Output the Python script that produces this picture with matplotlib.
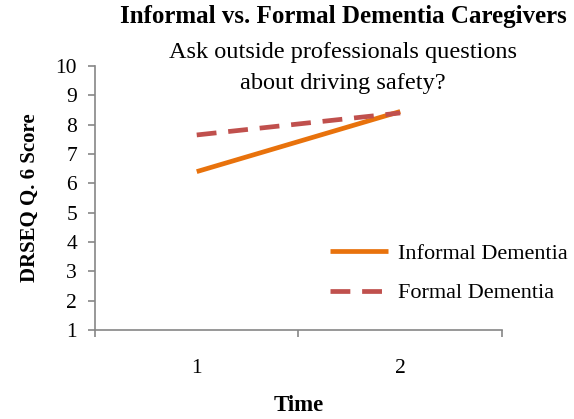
import matplotlib.pyplot as plt

plt.rcParams['font.family'] = ['Liberation Serif', 'DejaVu Serif']

# DRSEQ question 6 scores at the two time points
times = [1, 2]
informal = [6.4, 8.45]
formal = [7.65, 8.4]

fig = plt.figure(figsize=(5.74, 4.19), dpi=100)
ax = fig.add_axes([0.1655, 0.2124, 0.709, 0.630])

ax.plot(times, informal, color='#E8720C', lw=3.4, solid_capstyle='butt',
        label='Informal Dementia')
ax.plot(times, formal, color='#C0504D', lw=3.4, dashes=(4.2, 2.5),
        label='Formal Dementia')

ax.set_xlim(0.5, 2.5)
ax.set_ylim(1, 10)
ax.set_yticks(range(1, 11))

# category labels without marks, separator ticks between categories
ax.set_xticks([0.5, 1.5, 2.5])
ax.set_xticklabels([])
ax.set_xticks(times, minor=True)
ax.set_xticklabels([str(t) for t in times], minor=True)
ax.tick_params(axis='x', which='minor', length=0, pad=21, labelsize=15.5)
ax.tick_params(axis='x', which='major', length=5, width=1.2, color='#868686')
ax.tick_params(axis='y', length=5, width=1.2, color='#868686', pad=8, labelsize=15.5)

for side in ['top', 'right']:
    ax.spines[side].set_visible(False)
for side in ['left', 'bottom']:
    ax.spines[side].set_color('#868686')
    ax.spines[side].set_linewidth(1.2)

ax.set_xlabel('Time', fontsize=16.5, fontweight='bold', labelpad=12)
ax.set_ylabel('DRSEQ Q. 6 Score', fontsize=15, fontweight='bold', labelpad=11)

fig.text(0.598, 0.960, 'Informal vs. Formal Dementia Caregivers', ha='center',
         va='center', fontsize=18, fontweight='bold')
fig.text(0.598, 0.838, 'Ask outside professionals questions\nabout driving safety?',
         ha='center', va='center', fontsize=17.5, linespacing=1.6)

ax.legend(loc='lower right', bbox_to_anchor=(1.21, 0.025), frameon=False,
          fontsize=16, handlelength=2.6, handletextpad=0.45, labelspacing=0.85)

fig.savefig('out.png', dpi=100)
